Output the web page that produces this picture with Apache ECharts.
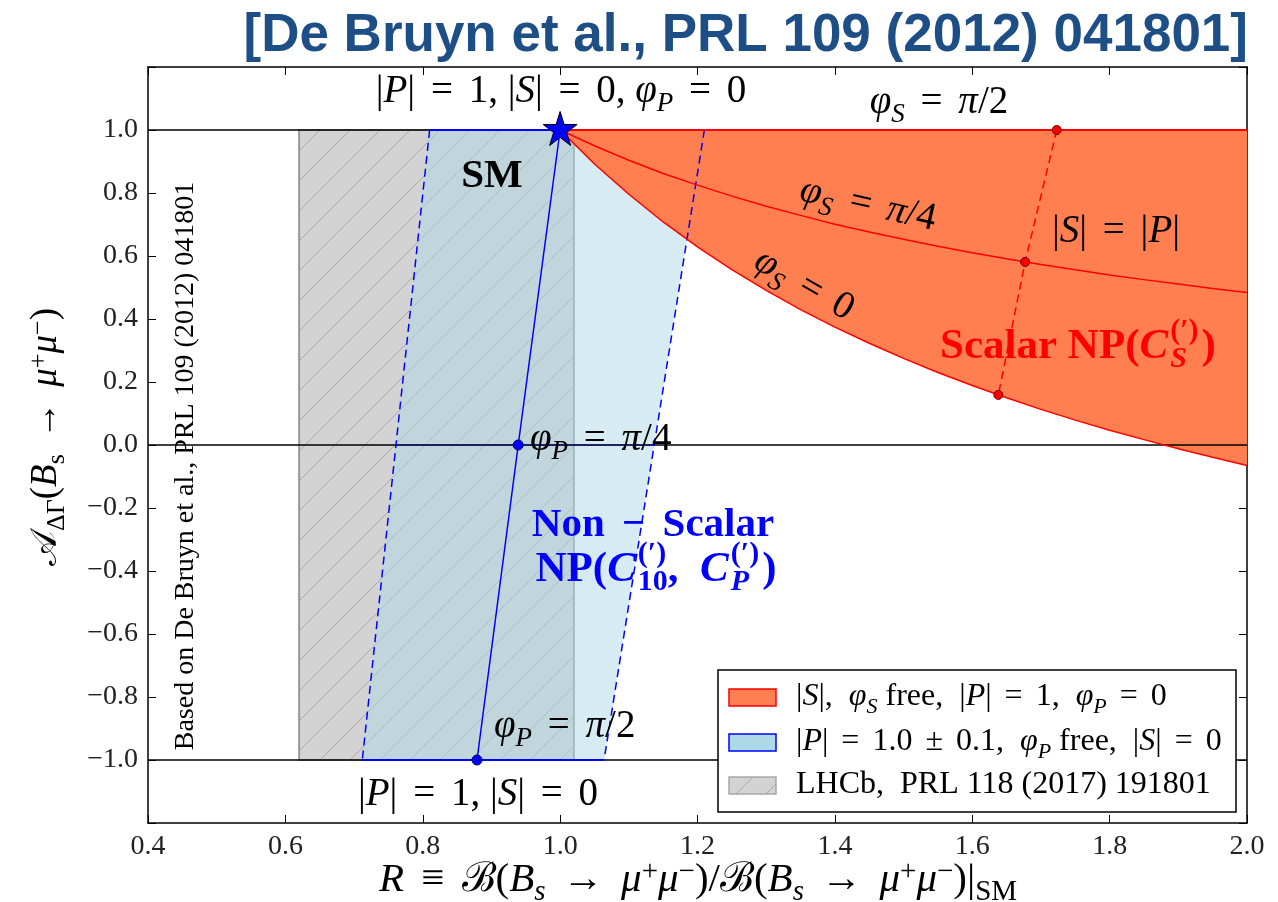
<!DOCTYPE html>
<html>
<head>
<meta charset="utf-8">
<script src="https://cdn.jsdelivr.net/npm/echarts@6/dist/echarts.min.js"></script>
<style>
  html, body { margin: 0; padding: 0; background: #ffffff; }
  #chart { width: 1278px; height: 902px; }
</style>
</head>
<body>
<div id="chart"></div>
<script>
// Axis ranges
const xRange = [0.4, 2.0];
const xStep = 0.2;
const yRange = [-1.2, 1.2];
const yStep = 0.2;

// LHCb measurement of R (hatched band)
const lhcbR = [0.62, 1.02];
const lhcbA = [-1.0, 1.0];

// Pseudoscalar band: |P| = 0.9 and |P| = 1.1 edges (phi_P free, |S| = 0)
const pLowEdge = [[0.810, 1.0], [0.761, 0.0], [0.712, -1.0]];
const pHighEdge = [[1.210, 1.0], [1.137, 0.0], [1.064, -1.0]];
// |P| = 1, phi_P from 0 to pi/2
const pCentral = [[1.000, 1.0], [0.939, 0.0], [0.879, -1.0]];
const pCentralDots = [[0.939, 0.0], [0.879, -1.0]];
const smPoint = [[1.0, 1.0]];

// Scalar NP: |P| = 1, phi_P = 0
const sR = [1.00, 1.05, 1.10, 1.15, 1.20, 1.25, 1.30, 1.35, 1.40, 1.45, 1.50,
            1.55, 1.60, 1.65, 1.70, 1.75, 1.80, 1.85, 1.90, 1.95, 2.00];
const sPhi0 = [1.000, 0.892, 0.796, 0.708, 0.629, 0.557, 0.491, 0.430, 0.374, 0.323, 0.275,
               0.230, 0.189, 0.150, 0.113, 0.079, 0.047, 0.017, -0.012, -0.039, -0.065];
const sPhiQuarter = [1.000, 0.950, 0.904, 0.862, 0.825, 0.790, 0.758, 0.729, 0.701, 0.676, 0.653,
                     0.631, 0.610, 0.591, 0.573, 0.556, 0.540, 0.525, 0.511, 0.497, 0.484];
const sPhiHalf = [[1.0, 1.0], [2.0, 1.0]];
const sEqual = [[1.723, 1.0], [1.677, 0.581], [1.638, 0.159]];

// Reference levels of A_DeltaGamma
const refLevels = [1.0, 0.0, -1.0];

const SERIF = "'Liberation Serif', 'DejaVu Serif', serif";
const SANS = "'Liberation Sans', Arial, sans-serif";

const toPairs = (xs, ys) => xs.map((x, i) => [x, ys[i]]);
const phi0Pts = toPairs(sR, sPhi0);
const phiQPts = toPairs(sR, sPhiQuarter);

// hatched fill for the LHCb band
function hatchPattern(bg, stroke, step) {
  const c = document.createElement('canvas');
  c.width = step; c.height = step;
  const g = c.getContext('2d');
  g.fillStyle = bg; g.fillRect(0, 0, step, step);
  g.strokeStyle = stroke; g.lineWidth = 1;
  g.beginPath();
  g.moveTo(0, step); g.lineTo(step, 0);
  g.moveTo(-2, 2); g.lineTo(2, -2);
  g.moveTo(step - 2, step + 2); g.lineTo(step + 2, step - 2);
  g.stroke();
  return c;
}
const hatch = hatchPattern('#d3d3d3', '#a8a8a8', 30);

function polygonSeries(points, style, z) {
  return {
    type: 'custom', coordinateSystem: 'cartesian2d', data: points, z, silent: true,
    renderItem: (params, api) => {
      if (params.dataIndex !== 0) return null;
      return { type: 'polygon', shape: { points: points.map(p => api.coord(p)) }, style };
    }
  };
}
function lineSeries(data, color, width, type, z) {
  return {
    type: 'line', data, symbol: 'none', showSymbol: false, silent: true, z,
    lineStyle: { color, width, type }, animation: false
  };
}
function dotSeries(data, color, border, size, z) {
  return {
    type: 'scatter', data, symbol: 'circle', symbolSize: size, silent: true, z,
    itemStyle: { color, borderColor: border, borderWidth: 1, opacity: 1 }
  };
}

// math-like rich text styles
function mathStyles(size, color, weight) {
  const small = Math.round(size * 0.7);
  const mk = (s, style, extra) => Object.assign(
    { fontFamily: SERIF, fontSize: s, fontWeight: weight || 'normal', fontStyle: style, fill: color, color }, extra);
  const main = { lineHeight: Math.round(size * 1.3), verticalAlign: 'middle' };
  const lo = { lineHeight: small, padding: [Math.round(size * 0.5), 0, 0, 0], verticalAlign: 'bottom' };
  const hi = { lineHeight: small, padding: [Math.round(size * 0.1), 0, Math.round(size * 0.4), 0], verticalAlign: 'top' };
  const pad = Math.round(size * 0.16);
  return {
    n: mk(size, 'normal', main),
    i: mk(size, 'italic', main),
    op: mk(size, 'normal', Object.assign({}, main, { padding: [0, pad, 0, pad] })),
    sub: mk(small, 'italic', lo),
    subr: mk(small, 'normal', lo),
    sup: mk(small, 'normal', hi)
  };
}
function label(x, y, text, size, color, weight, opts) {
  opts = opts || {};
  return {
    type: 'text', x, y, rotation: opts.rot || 0, z: 100, silent: true,
    style: {
      text, rich: mathStyles(size, color, weight),
      fontFamily: SERIF, fontSize: size, fill: color,
      align: opts.align || 'center', verticalAlign: 'middle'
    }
  };
}

// text pieces laid out one after another; a piece marked "stack" shares
// its x position with the next piece (superscript over subscript)
const measureCtx = document.createElement('canvas').getContext('2d');
function stackedLabel(cx, cy, pieces, size, color, weight) {
  const small = Math.round(size * 0.7);
  const kinds = {
    n: { px: size, italic: false, dy: 0 },
    i: { px: size, italic: true, dy: 0 },
    sub: { px: small, italic: true, dy: size * 0.28 },
    subr: { px: small, italic: false, dy: size * 0.28 },
    sup: { px: small, italic: false, dy: -size * 0.36 }
  };
  const fontOf = k => (k.italic ? 'italic ' : '') + weight + ' ' + k.px + 'px ' + SERIF;
  let x = 0, pending = 0;
  const children = [];
  pieces.forEach(([kind, text, stack, dx]) => {
    const k = kinds[kind];
    measureCtx.font = fontOf(k);
    const w = measureCtx.measureText(text).width;
    x += dx || 0;
    children.push({
      type: 'text', x, y: k.dy, z: 100, silent: true,
      style: { text, font: fontOf(k), fill: color, align: 'left', verticalAlign: 'middle' }
    });
    if (stack) { pending = Math.max(pending, w); }
    else { x += Math.max(w, pending); pending = 0; }
  });
  return { type: 'group', x: cx - x / 2, y: cy, z: 100, silent: true, children };
}

const chart = echarts.init(document.getElementById('chart'), null, { renderer: 'canvas' });

const bandPoly = pLowEdge.concat(pHighEdge.slice().reverse());
const redPoly = sPhiHalf.concat(phi0Pts.slice().reverse());
const grayPoly = [[lhcbR[0], lhcbA[1]], [lhcbR[1], lhcbA[1]], [lhcbR[1], lhcbA[0]], [lhcbR[0], lhcbA[0]]];

const axisCommon = {
  type: 'value', splitLine: { show: false },
  axisLine: { show: true, onZero: false, lineStyle: { color: '#000', width: 1.5 } },
  axisTick: { show: true, inside: true, length: 8, lineStyle: { color: '#000', width: 1 } }
};
const fmt = v => {
  if (Math.abs(v) < 1e-9) return '0.0';
  return (v < 0 ? '\u2212' : '') + Math.abs(v).toFixed(1);
};

const legendX = 718, legendY = 670, legendW = 518, legendH = 142;
const legendRows = [
  { y: 697, fill: '#ff7f50', stroke: '#ff0000',
    text: '{n||}{i|S}{n||,  }{i|φ}{sub|S}{n| free,  |}{i|P}{n||}{op| = }{n|1,  }{i|φ}{sub|P}{op| = }{n|0}' },
  { y: 742, fill: '#add8e6', stroke: '#0000ff',
    text: '{n||}{i|P}{n||}{op| = }{n|1.0}{op| ± }{n|0.1,  }{i|φ}{sub|P}{n| free,  |}{i|S}{n||}{op| = }{n|0}' },
  { y: 785, fill: { image: hatch, repeat: 'repeat' }, stroke: '#a8a8a8',
    text: '{n|LHCb,  PRL 118 (2017) 191801}' }
];
const legendEls = [{
  type: 'rect', z: 90, silent: true,
  shape: { x: legendX, y: legendY, width: legendW, height: legendH },
  style: { fill: '#ffffff', stroke: '#000000', lineWidth: 1.5 }
}];
legendRows.forEach(r => {
  legendEls.push({
    type: 'rect', z: 95, silent: true,
    shape: { x: 729, y: r.y - 8, width: 47, height: 17 },
    style: { fill: r.fill, stroke: r.stroke, lineWidth: 1.5 }
  });
  legendEls.push(label(796, r.y, r.text, 32, '#000', 'normal', { align: 'left' }));
});

const option = {
  animation: false,
  backgroundColor: '#ffffff',
  grid: { left: 148, right: 31, top: 67, bottom: 79, containLabel: false },
  xAxis: [
    Object.assign({}, axisCommon, {
      min: xRange[0], max: xRange[1], interval: xStep, position: 'bottom',
      axisLabel: { show: true, margin: 10, fontFamily: SERIF, fontSize: 28, color: '#222', formatter: fmt }
    }),
    Object.assign({}, axisCommon, {
      min: xRange[0], max: xRange[1], interval: xStep, position: 'top', axisLabel: { show: false }
    })
  ],
  yAxis: [
    Object.assign({}, axisCommon, {
      min: yRange[0], max: yRange[1], interval: yStep, position: 'left',
      axisLabel: {
        show: true, margin: 10, fontFamily: SERIF, fontSize: 28, color: '#222',
        formatter: v => Math.abs(v) > 1.05 ? '' : fmt(v)
      }
    }),
    Object.assign({}, axisCommon, {
      min: yRange[0], max: yRange[1], interval: yStep, position: 'right', axisLabel: { show: false }
    })
  ],
  series: [
    // LHCb hatched band
    polygonSeries(grayPoly, { fill: { image: hatch, repeat: 'repeat' }, stroke: '#9a9a9a', lineWidth: 2 }, 1),
    // pseudoscalar band
    polygonSeries(bandPoly, { fill: 'rgba(173,216,230,0.5)' }, 2),
    // scalar region
    polygonSeries(redPoly, { fill: '#ff7f50' }, 3),
    // reference lines at A = 1, 0, -1
    ...refLevels.map(a => lineSeries([[xRange[0], a], [xRange[1], a]], '#000000', 1.5, 'solid', 4)),
    // pseudoscalar band edges
    lineSeries([pLowEdge[0], pHighEdge[0]], '#0000ff', 2, 'solid', 5),
    lineSeries([pLowEdge[2], pHighEdge[2]], '#0000ff', 2, 'solid', 5),
    lineSeries([pLowEdge[1], pHighEdge[1]], 'rgba(0,0,160,0.55)', 1.5, 'solid', 5),
    lineSeries(pLowEdge, '#0000ff', 1.5, [8, 5], 5),
    lineSeries(pHighEdge, '#0000ff', 1.5, [8, 5], 5),
    lineSeries(pCentral, '#0000ff', 1.5, 'solid', 5),
    // scalar curves
    lineSeries(sPhiHalf, '#ff0000', 2, 'solid', 6),
    lineSeries(phiQPts, '#ff0000', 1.5, 'solid', 6),
    lineSeries(phi0Pts, '#ff0000', 1.5, 'solid', 6),
    lineSeries(sEqual, '#ff0000', 1.5, [8, 5], 6),
    dotSeries(sEqual, '#ff0000', '#6a0000', 9, 7),
    dotSeries(pCentralDots, '#0000ff', '#000060', 10, 7),
    // SM point
    {
      type: 'scatter', data: smPoint, z: 8, silent: true,
      symbol: 'path://M50,0 L61.2,34.5 L97.6,34.5 L68.2,55.9 L79.4,90.5 L50,69.1 L20.6,90.5 L31.8,55.9 L2.4,34.5 L38.8,34.5 Z',
      symbolSize: 34, symbolOffset: [0, -1.5],
      itemStyle: { color: '#0000ff', borderColor: '#000000', borderWidth: 1, opacity: 1 }
    }
  ],
  graphic: { elements: [
    // title
    {
      type: 'text', x: 1248, y: 36, z: 100, silent: true,
      style: { text: '[De Bruyn et al., PRL 109 (2012) 041801]', fontFamily: SANS, fontSize: 53,
               fontWeight: 'bold', fill: '#1d4f86', align: 'right', verticalAlign: 'middle' }
    },
    // axis titles
    label(698, 880, '{i|R}{op| ≡ }{n|ℬ(}{i|B}{sub|s}{op| → }{i|μ}{sup|+}{i|μ}{sup|−}{n|)/ℬ(}{i|B}{sub|s}{op| → }{i|μ}{sup|+}{i|μ}{sup|−}{n|)|}{subr|SM}', 41, '#000'),
    label(46, 437, '{n|𝒜}{subr|ΔΓ}{n|(}{i|B}{subr|s}{op| → }{i|μ}{sup|+}{i|μ}{sup|−}{n|)}', 37, '#000', 'normal', { rot: Math.PI / 2 }),
    // source note
    {
      type: 'text', x: 186, y: 466, rotation: Math.PI / 2, z: 100, silent: true,
      style: { text: 'Based on De Bruyn et al., PRL 109 (2012) 041801', fontFamily: SERIF, fontSize: 28,
               fill: '#000', align: 'center', verticalAlign: 'middle' }
    },
    // annotations
    label(561, 92, '{n||}{i|P}{n||}{op| = }{n|1, |}{i|S}{n||}{op| = }{n|0, }{i|φ}{sub|P}{op| = }{n|0}', 39, '#000'),
    label(939, 103, '{i|φ}{sub|S}{op| = }{i|π}{n|/2}', 39, '#000'),
    label(492, 176, '{n|SM}', 41, '#000', 'bold'),
    label(868, 205, '{i|φ}{sub|S}{op| = }{i|π}{n|/4}', 39, '#000', 'normal', { rot: -0.22 }),
    label(804, 285, '{i|φ}{sub|S}{op| = }{n|0}', 39, '#000', 'normal', { rot: -0.52 }),
    label(1116, 232, '{n||}{i|S}{n||}{op| = }{n||}{i|P}{n||}', 39, '#000'),
    stackedLabel(1078, 347, [['n', 'Scalar NP('], ['i', 'C'], ['sup', '(′)', true, 2], ['sub', 'S'], ['n', ')', false, 3]],
                 43, '#ff0000', 'bold'),
    label(530, 440, '{i|φ}{sub|P}{op| = }{i|π}{n|/4}', 39, '#000', 'normal', { align: 'left' }),
    label(653, 525, '{n|Non}{op| − }{n|Scalar}', 41, '#0000ff', 'bold'),
    stackedLabel(656, 570, [['n', 'NP('], ['i', 'C'], ['sup', '(′)', true, 2], ['subr', '10'], ['n', ',  '],
                            ['i', 'C'], ['sup', '(′)', true, 2], ['sub', 'P'], ['n', ')', false, 3]],
                 43, '#0000ff', 'bold'),
    label(494, 727, '{i|φ}{sub|P}{op| = }{i|π}{n|/2}', 39, '#000', 'normal', { align: 'left' }),
    label(478, 795, '{n||}{i|P}{n||}{op| = }{n|1, |}{i|S}{n||}{op| = }{n|0}', 39, '#000'),
    ...legendEls
  ] }
};

chart.setOption(option);
</script>
</body>
</html>
